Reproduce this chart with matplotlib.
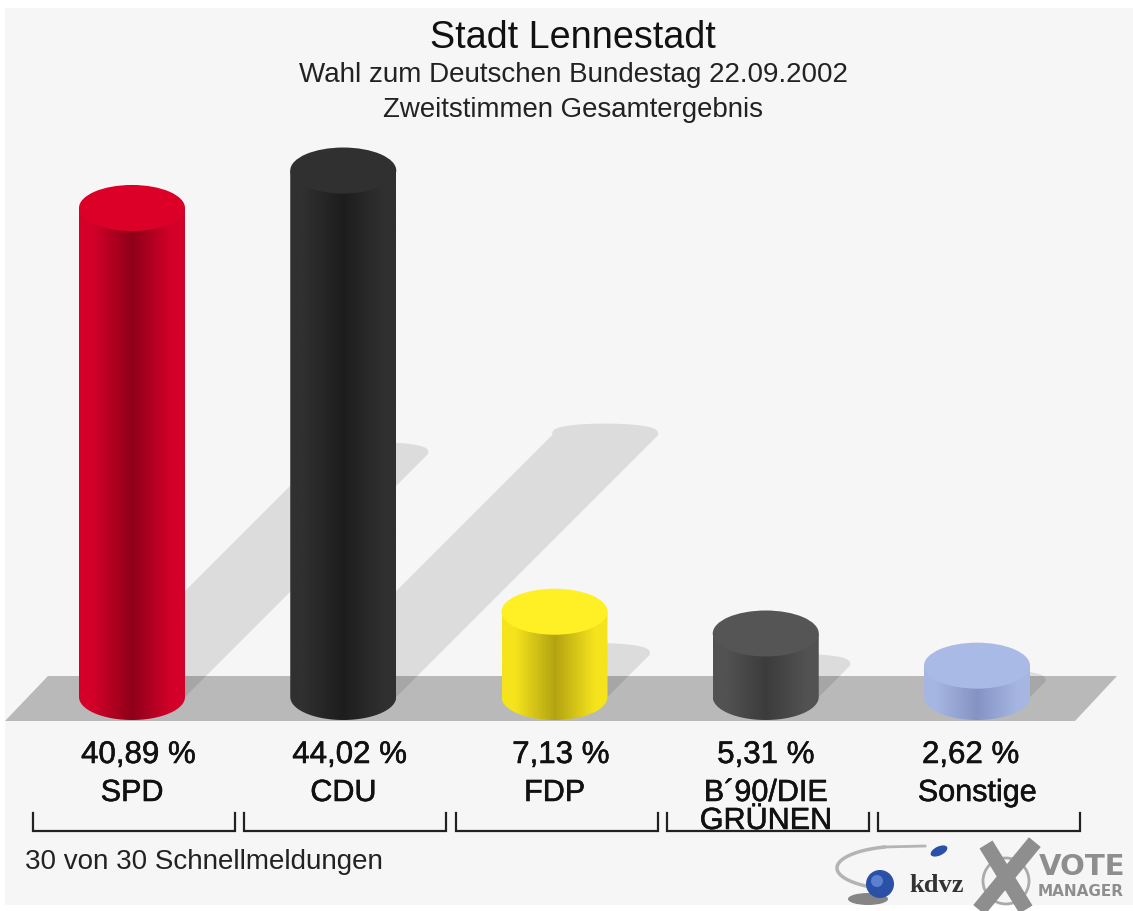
#!/usr/bin/env python
"""Bar chart of the Bundestag 2002 result for Stadt Lennestadt, drawn as 3D cylinders"""
import numpy as np
import matplotlib
matplotlib.use('Agg')
import matplotlib.pyplot as plt
import matplotlib.patheffects as pe
from matplotlib.colors import LinearSegmentedColormap
from matplotlib.patches import Circle, Ellipse, PathPatch, Polygon, Rectangle
from matplotlib.path import Path
from matplotlib.transforms import Affine2D

parties = ['SPD', 'CDU', 'FDP', 'B´90/DIE\nGRÜNEN', 'Sonstige']
values = [40.89, 44.02, 7.13, 5.31, 2.62]
value_labels = ['40,89 %', '44,02 %', '7,13 %', '5,31 %', '2,62 %']
top_colors = ['#dc0028', '#303030', '#fff026', '#555555', '#a9bae6']
edge_colors = ['#d4002a', '#303030', '#f5e41c', '#525252', '#a6b6e2']
mid_colors = ['#8e0018', '#1d1d1d', '#b3a312', '#3c3c3c', '#8493c4']

title = 'Stadt Lennestadt'
subtitle = 'Wahl zum Deutschen Bundestag 22.09.2002'
subtitle2 = 'Zweitstimmen Gesamtergebnis'
footer = '30 von 30 Schnellmeldungen'

W, H = 1133, 911
PX_X = 211.25   # pixels per category
PX_Y = 11.96    # pixels per percent
X0, Y0 = 132, 697
BAR_W = 106 / PX_X
ELL_H = 46 / PX_Y
SHADOW = 5.95   # shadow offset in pixels per percent

plt.rcParams['font.family'] = ['Liberation Sans', 'DejaVu Sans']

fig = plt.figure(figsize=(W / 100, H / 100), dpi=100, facecolor='white')
ax = fig.add_axes([0, 0, 1, 1])
ax.set_xlim(-X0 / PX_X, (W - X0) / PX_X)
ax.set_ylim((Y0 - H) / PX_Y, Y0 / PX_Y)
ax.axis('off')

# pixel coordinates with y going down, for the page furniture
page = Affine2D().scale(1, -1).translate(0, H)
heavy = [pe.withStroke(linewidth=0.4, foreground='#111111')]

ax.add_patch(Rectangle((5, 8), W - 5, H - 14, transform=page, fc='#f6f6f6', ec='none', zorder=0))
ax.add_patch(Polygon([(5, 721), (1075, 721), (1117, 676), (48, 676)], transform=page,
                     fc='#b9b9b9', ec='none', zorder=1))

for i, v in enumerate(values):
    # shadow falling to the upper right, with a rounded end
    dx, dy = SHADOW * v / PX_X, SHADOW * v / PX_Y
    t = np.linspace(0, np.pi, 60)
    end_x = i + dx + BAR_W / 2 * np.cos(t)
    end_y = dy + ELL_H / 4 * np.clip(np.sin(t), 0, 1) ** 0.6
    pts = [(i + BAR_W / 2, 0)] + list(zip(end_x, end_y)) + [(i - BAR_W / 2, 0)]
    ax.add_patch(Polygon(pts, fc='black', alpha=0.1, ec='none', zorder=2))

    # body: gradient clipped to the side of the cylinder
    cmap = LinearSegmentedColormap.from_list('b', [(0, edge_colors[i]), (0.12, edge_colors[i]), (0.5, mid_colors[i]),
                                                   (0.88, edge_colors[i]), (1, edge_colors[i])])
    left, right = i - BAR_W / 2, i + BAR_W / 2
    t = np.linspace(np.pi, 2 * np.pi, 40)
    outline = [(left, v)] + [(left, 0)] + list(zip(i + BAR_W / 2 * np.cos(t), ELL_H / 2 * np.sin(t))) + [(right, v), (left, v)]
    clip = PathPatch(Path(outline), transform=ax.transData, fc='none', ec='none')
    ax.add_patch(clip)
    im = ax.imshow(np.linspace(0, 1, 256).reshape(1, -1), cmap=cmap, aspect='auto',
                   extent=(left, right, -ELL_H, v), zorder=3, interpolation='bilinear')
    im.set_clip_path(clip)
    # lid
    ax.add_patch(Ellipse((i, v), BAR_W, ELL_H, fc=top_colors[i], ec='none', zorder=4))

    ax.text(i + 0.03 * (i < 3) - 0.03 * (i == 4), (Y0 - 755) / PX_Y, value_labels[i], ha='center', va='center',
            fontsize=22.5, color='#111111', path_effects=heavy)
    ax.text(i, (Y0 - 793) / PX_Y, parties[i].split('\n')[0], ha='center', va='center',
            fontsize=22, color='#111111', path_effects=heavy)
    if '\n' in parties[i]:
        ax.text(i, (Y0 - 821) / PX_Y, parties[i].split('\n')[1], ha='center', va='center',
                fontsize=22, color='#111111', path_effects=heavy)

    # bracket under each party
    bx = X0 + PX_X * i
    ax.plot([bx - 99, bx - 99, bx + 103, bx + 103], [813, 831, 831, 813], transform=page,
            color='#222222', lw=1.6, solid_joinstyle='miter', zorder=5)

ax.text(573, 38, title, transform=page, ha='center', va='center', fontsize=27.2, color='#111111')
ax.text(573, 75, subtitle, transform=page, ha='center', va='center', fontsize=20, color='#222222')
ax.text(573, 110, subtitle2, transform=page, ha='center', va='center', fontsize=19.9, color='#222222')
ax.text(25, 862, footer, transform=page, ha='left', va='center', fontsize=20, color='#222222')

# kdvz logo
t = np.linspace(0.6 * np.pi, 1.35 * np.pi, 40)
ax.plot(905 + 68 * np.cos(t), 868 + 22 * np.sin(t) * -1, transform=page, color='#b4b4b4', lw=2.5, zorder=5)
ax.plot([905 - 21, 925], [847, 846], transform=page, color='#b4b4b4', lw=2, zorder=5)
ax.add_patch(Ellipse((868, 899), 40, 12, transform=page, fc='#555555', ec='none', alpha=0.7, zorder=5))
ax.add_patch(Circle((880, 884), 14, transform=page, fc='#2a50a8', ec='none', zorder=6))
ax.add_patch(Circle((877, 881), 6, transform=page, fc='#5a80d0', ec='none', zorder=6))
ax.add_patch(Ellipse((939, 851), 18, 9, angle=-25, transform=page, fc='#2a50a8', ec='none', zorder=6))
ax.text(937, 886, 'kdvz', transform=page, ha='center', va='center', fontsize=19, fontweight='bold',
        family='Liberation Serif', color='#333333')

# votemanager logo
ax.add_patch(Circle((1006, 881), 23, transform=page, fc='none', ec='#aaaaaa', lw=2, zorder=5))
ax.plot([990, 1022], [851, 903], transform=page, color='#8e8e8e', lw=11, zorder=6)
ax.plot([1030, 984], [848, 904], transform=page, color='#8e8e8e', lw=11, zorder=6)
ax.text(1039, 867, 'VOTE', transform=page, ha='left', va='center', fontsize=21, fontweight='bold',
        family='DejaVu Sans', color='#8e8e8e')
ax.text(1038, 892, 'MANAGER', transform=page, ha='left', va='center', fontsize=11, fontweight='bold',
        family='DejaVu Sans', color='#8e8e8e')

fig.savefig('out.png', dpi=100)
